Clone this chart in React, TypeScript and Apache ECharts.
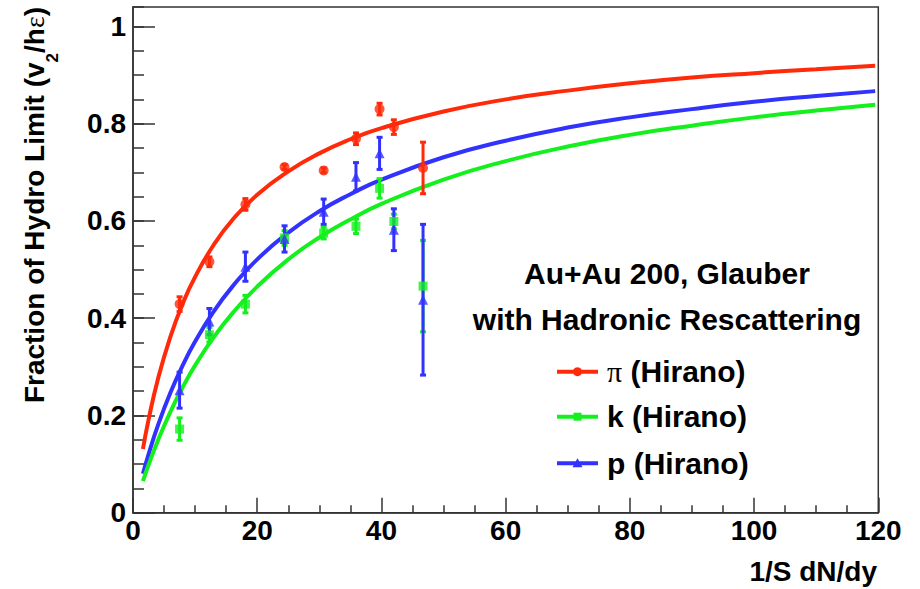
import React, { useEffect, useRef } from "react";
import * as echarts from "echarts";

// ---- data ----
const centrality = [7.5, 12.3, 18.1, 24.4, 30.7, 35.9, 39.7, 42.0, 46.7];

const piValues = [0.429, 0.516, 0.634, 0.711, 0.704, 0.769, 0.83, 0.793, 0.709];
const piErrors = [0.015, 0.01, 0.012, 0.005, 0.005, 0.012, 0.012, 0.015, 0.053];

const kValues = [0.172, 0.366, 0.429, 0.565, 0.575, 0.589, 0.667, 0.599, 0.466];
const kErrors = [0.023, 0.015, 0.018, 0.015, 0.012, 0.015, 0.02, 0.015, 0.094];

const pValues = [0.252, 0.393, 0.506, 0.563, 0.619, 0.691, 0.739, 0.582, 0.438];
const pErrors = [0.037, 0.027, 0.03, 0.027, 0.026, 0.029, 0.033, 0.043, 0.155];

// fit curves, read at sampled abscissae
const curveX = [1.6, 2.5, 4, 6, 8, 10, 13, 16, 20, 25, 30, 35, 40, 50, 60, 70, 80, 90, 100, 110, 119.5];
const piCurve = [0.131, 0.191, 0.274, 0.361, 0.43, 0.485, 0.551, 0.602, 0.654, 0.702, 0.739, 0.768, 0.791, 0.825, 0.85, 0.868, 0.883, 0.895, 0.904, 0.912, 0.919];
const pCurve = [0.08, 0.12, 0.179, 0.246, 0.303, 0.352, 0.414, 0.465, 0.521, 0.576, 0.62, 0.655, 0.685, 0.731, 0.765, 0.792, 0.813, 0.83, 0.845, 0.857, 0.867];
const kCurve = [0.065, 0.098, 0.148, 0.207, 0.258, 0.303, 0.361, 0.41, 0.465, 0.521, 0.566, 0.603, 0.635, 0.685, 0.723, 0.753, 0.777, 0.796, 0.813, 0.827, 0.839];

const legendHeader = ["Au+Au 200, Glauber", "with Hadronic Rescattering"];
const legendNames = ["π", "k", "p"];
const legendSuffix = " (Hirano)";
const xTitle = "1/S dN/dy";
// y title pieces: [text, kind]  (m = main bold, s = subscript, e = serif symbol)
const yTitleParts: [string, string][] = [
  ["Fraction of Hydro Limit (v", "m"],
  ["2", "s"],
  ["/h", "m"],
  ["ε", "e"],
  [")", "m"],
];

const RED = "#ff2a0a";
const GREEN = "#14f01e";
const BLUE = "#3232ff";
const FONT = "'Liberation Sans', Arial, Helvetica, sans-serif";
const SERIF = "'Liberation Serif', 'DejaVu Serif', serif";

function zip(xs: number[], ys: number[]) {
  return xs.map((x, i) => [x, ys[i]]);
}
function errData(xs: number[], ys: number[], es: number[]) {
  return xs.map((x, i) => [x, ys[i] - es[i], ys[i] + es[i]]);
}

function errorBarSeries(name: string, data: number[][], color: string) {
  return {
    type: "custom",
    name,
    data,
    z: 4,
    renderItem: (params: any, api: any) => {
      const x = api.value(0);
      const lo = api.coord([x, api.value(1)]);
      const hi = api.coord([x, api.value(2)]);
      const st = { stroke: color, lineWidth: 3 };
      return {
        type: "group",
        children: [
          { type: "line", shape: { x1: lo[0], y1: lo[1], x2: hi[0], y2: hi[1] }, style: st },
          { type: "line", shape: { x1: lo[0] - 3, y1: lo[1], x2: lo[0] + 3, y2: lo[1] }, style: st },
          { type: "line", shape: { x1: hi[0] - 3, y1: hi[1], x2: hi[0] + 3, y2: hi[1] }, style: st },
        ],
      };
    },
  };
}

function curveSeries(name: string, ys: number[], color: string) {
  return {
    type: "line",
    name,
    data: zip(curveX, ys),
    smooth: true,
    showSymbol: false,
    lineStyle: { color, width: 4 },
    z: 2,
  };
}

function scatterSeries(name: string, ys: number[], color: string, symbol: string, size: number) {
  return {
    type: "scatter",
    name,
    data: zip(centrality, ys),
    symbol,
    symbolSize: size,
    itemStyle: { color },
    z: 5,
  };
}

export default function App() {
  const ref = useRef<HTMLDivElement>(null);

  useEffect(() => {
    document.body.style.margin = "0";
    const chart = echarts.init(ref.current!, null, { renderer: "svg" });

    // measure y-title pieces
    const ctx = document.createElement("canvas").getContext("2d")!;
    const fontOf = (kind: string) =>
      kind === "m"
        ? { css: `bold 28px ${FONT}`, fontFamily: FONT, fontSize: 28, fontWeight: "bold", dy: 0 }
        : kind === "s"
        ? { css: `bold 17px ${FONT}`, fontFamily: FONT, fontSize: 17, fontWeight: "bold", dy: 18 }
        : { css: `28px ${SERIF}`, fontFamily: SERIF, fontSize: 28, fontWeight: "normal", dy: 0 };
    const widths = yTitleParts.map(([t, k]) => {
      ctx.font = fontOf(k).css;
      return ctx.measureText(t).width;
    });
    const total = widths.reduce((a, b) => a + b, 0);
    let cursor = -total;
    const titleChildren = yTitleParts.map(([t, k], i) => {
      const f = fontOf(k);
      const el = {
        type: "text",
        x: cursor,
        y: f.dy,
        style: {
          text: t,
          align: "left",
          verticalAlign: "middle",
          fontFamily: f.fontFamily,
          fontSize: f.fontSize,
          fontWeight: f.fontWeight,
          fill: "#000",
        },
      };
      cursor += widths[i];
      return el;
    });

    const legendY = [371.7, 416.7, 463.3];
    const legendColors = [RED, GREEN, BLUE];
    const legendGraphics: any[] = [];
    legendY.forEach((y, i) => {
      const c = legendColors[i];
      legendGraphics.push({
        type: "line",
        shape: { x1: 557, y1: y, x2: 598, y2: y },
        style: { stroke: c, lineWidth: 4 },
      });
      if (i === 0) {
        legendGraphics.push({ type: "circle", shape: { cx: 577.5, cy: y, r: 4.5 }, style: { fill: c } });
      } else if (i === 1) {
        legendGraphics.push({ type: "rect", shape: { x: 573.5, y: y - 4, width: 8, height: 8 }, style: { fill: c } });
      } else {
        legendGraphics.push({
          type: "polygon",
          shape: { points: [[577.5, y - 5], [582.5, y + 4], [572.5, y + 4]] },
          style: { fill: c },
        });
      }
      legendGraphics.push({
        type: "text",
        x: 607,
        y,
        style: {
          text: `{n|${legendNames[i]}}{t|${legendSuffix}}`,
          verticalAlign: "middle",
          align: "left",
          rich: {
            n: i === 0
              ? { fontFamily: SERIF, fontSize: 30, fontWeight: "normal", fill: "#000" }
              : { fontFamily: FONT, fontSize: 30, fontWeight: "bold", fill: "#000" },
            t: { fontFamily: FONT, fontSize: 30, fontWeight: "bold", fill: "#000" },
          },
        },
      });
    });

    const option: any = {
      animation: false,
      backgroundColor: "#ffffff",
      grid: {
        left: 133,
        right: 41.7,
        top: 7,
        bottom: 76.3,
        show: true,
        borderColor: "#333",
        borderWidth: 1.5,
        containLabel: false,
        outerBoundsMode: "none",
      },
      xAxis: {
        type: "value",
        min: 0,
        max: 120,
        interval: 20,
        axisLine: { onZero: false, lineStyle: { color: "#333", width: 1.5 } },
        axisTick: { inside: true, length: 15, lineStyle: { color: "#333", width: 1.5 } },
        minorTick: { show: true, splitNumber: 4, length: 7.5, lineStyle: { color: "#333", width: 1.5 } },
        splitLine: { show: false },
        axisLabel: { color: "#000", fontFamily: FONT, fontWeight: "bold", fontSize: 28, margin: 4 },
      },
      yAxis: [
        {
          type: "value",
          min: 0,
          max: 1.04,
          interval: 0.2,
          position: "left",
          axisLine: { onZero: false, lineStyle: { color: "#333", width: 1.5 } },
          axisTick: { inside: true, length: 22, lineStyle: { color: "#333", width: 1.5 } },
          splitLine: { show: false },
          axisLabel: {
            color: "#000",
            fontFamily: FONT,
            fontWeight: "bold",
            fontSize: 28,
            margin: 7,
            showMaxLabel: false,
          },
        },
        {
          type: "value",
          min: 0,
          max: 1.04,
          interval: 0.05,
          position: "left",
          axisLine: { show: false },
          axisTick: { inside: true, length: 11, lineStyle: { color: "#333", width: 1.5 } },
          splitLine: { show: false },
          axisLabel: { show: false },
        },
      ],
      series: [
        curveSeries("π fit", piCurve, RED),
        curveSeries("p fit", pCurve, BLUE),
        curveSeries("k fit", kCurve, GREEN),
        errorBarSeries("π err", errData(centrality, piValues, piErrors), RED),
        errorBarSeries("k err", errData(centrality, kValues, kErrors), GREEN),
        errorBarSeries("p err", errData(centrality, pValues, pErrors), BLUE),
        scatterSeries("π (Hirano)", piValues, RED, "circle", 10),
        scatterSeries("k (Hirano)", kValues, GREEN, "rect", 9),
        scatterSeries("p (Hirano)", pValues, BLUE, "triangle", 10),
      ],
      graphic: [
        {
          type: "group",
          x: 34,
          y: 7,
          rotation: Math.PI / 2,
          children: titleChildren,
        },
        {
          type: "text",
          x: 877,
          y: 571,
          style: {
            text: xTitle,
            align: "right",
            verticalAlign: "middle",
            fontFamily: FONT,
            fontSize: 28,
            fontWeight: "bold",
            fill: "#000",
          },
        },
        {
          type: "text",
          x: 667,
          y: 273,
          style: {
            text: legendHeader[0],
            align: "center",
            verticalAlign: "middle",
            fontFamily: FONT,
            fontSize: 30,
            fontWeight: "bold",
            fill: "#000",
          },
        },
        {
          type: "text",
          x: 667,
          y: 319,
          style: {
            text: legendHeader[1],
            align: "center",
            verticalAlign: "middle",
            fontFamily: FONT,
            fontSize: 30,
            fontWeight: "bold",
            fill: "#000",
          },
        },
        ...legendGraphics,
      ],
    };

    chart.setOption(option);
    return () => chart.dispose();
  }, []);

  return (
    <div
      ref={ref}
      style={{ position: "fixed", left: 0, top: 0, width: 920, height: 589, background: "#fff" }}
    />
  );
}
